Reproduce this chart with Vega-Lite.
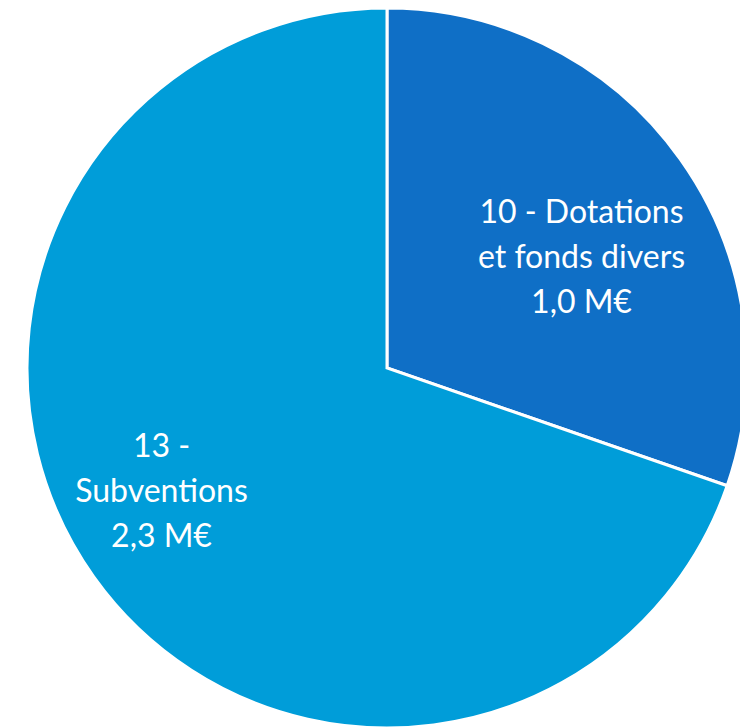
{
  "$schema": "https://vega.github.io/schema/vega-lite/v6.json",
  "width": 774,
  "height": 736,
  "autosize": {"type": "none"},
  "padding": 0,
  "background": "white",
  "view": {"stroke": null},
  "data": {"values": [
    {"cat": "10", "label": "10 - Dotations\net fonds divers\n1,0 M€", "value": 1.0, "order": 1},
    {"cat": "13", "label": "13 -\nSubventions\n2,3 M€", "value": 2.3, "order": 2}
  ]},
  "encoding": {
    "theta": {"field": "value", "type": "quantitative", "stack": true},
    "order": {"field": "order", "type": "quantitative"}
  },
  "layer": [
    {
      "mark": {"type": "arc", "outerRadius": 360, "stroke": "white", "strokeWidth": 3},
      "encoding": {
        "color": {"field": "cat", "type": "nominal", "scale": {"domain": ["10", "13"], "range": ["#0F6FC6", "#009DD9"]}, "legend": null}
      }
    },
    {
      "mark": {"type": "text", "radius": 240, "dx": -1, "dy": -16, "font": "Lato", "fontSize": 32, "lineHeight": 45, "color": "white", "align": "center", "baseline": "middle", "lineBreak": "\n"},
      "encoding": {
        "text": {"condition": {"test": "datum.cat === '10'", "field": "label"}, "value": ""}
      }
    },
    {
      "mark": {"type": "text", "radius": 240, "dx": -30, "dy": -60, "font": "Lato", "fontSize": 32, "lineHeight": 45, "color": "white", "align": "center", "baseline": "middle", "lineBreak": "\n"},
      "encoding": {
        "text": {"condition": {"test": "datum.cat === '13'", "field": "label"}, "value": ""}
      }
    }
  ]
}
